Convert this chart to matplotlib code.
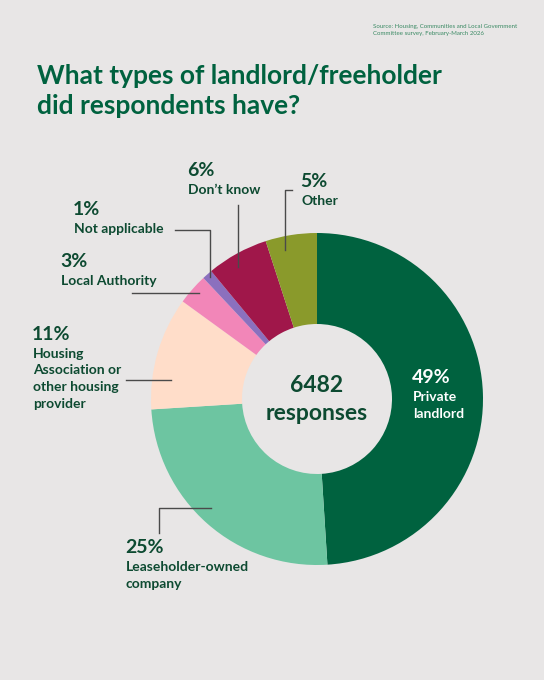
import matplotlib
matplotlib.use("Agg")
import matplotlib.pyplot as plt

# data
categories = ["Private landlord", "Leaseholder-owned company",
              "Housing Association or other housing provider",
              "Local Authority", "Not applicable", "Don't know", "Other"]
shares = [49, 25, 11, 3, 1, 6, 5]
colors = ["#00623F", "#6DC5A1", "#FFDDC9", "#F286B8", "#8B70BE", "#A0174A", "#8A9A2B"]
total_responses = 6482

bg = "#E8E6E6"
green = "#00623F"
dark = "#0D4A31"
font = "Lato"

fig = plt.figure(figsize=(5.44, 6.8), dpi=100)
fig.patch.set_facecolor(bg)
ax = fig.add_axes([0, 0, 1, 1])

# donut (y axis is inverted, so counterclock in data = clockwise on screen)
ax.pie(shares, colors=colors, startangle=-90, counterclock=True,
       center=(317, 399), radius=166,
       wedgeprops=dict(width=166 - 75, linewidth=0))
ax.set_xlim(0, 544)
ax.set_ylim(680, 0)
ax.set_aspect("equal")
ax.axis("off")

ax.text(317, 386, f"{total_responses}", ha="center", va="center",
        fontsize=16.5, fontweight="bold", color=dark, family=font)
ax.text(317, 414, "responses", ha="center", va="center",
        fontsize=16.5, fontweight="bold", color=dark, family=font)

# title and source
ax.text(37, 64, "What types of landlord/freeholder\ndid respondents have?",
        ha="left", va="top", fontsize=19, fontweight="bold", color=green,
        family=font, linespacing=1.3)
ax.text(373, 24, "Source: Housing, Communities and Local Government\n"
        "Committee survey, February-March 2026",
        ha="left", va="top", fontsize=4.4, color="#3B8A64", family=font,
        linespacing=1.5)

# labels: (x, y, label text, colour)
labels = [
    (412, 369, categories[0].replace(" ", "\n"), "white"),
    (125, 539, "Leaseholder-owned\ncompany", dark),
    (32, 326, "Housing\nAssociation or\nother housing\nprovider", dark),
    (60, 253, categories[3], dark),
    (73, 201, categories[4], dark),
    (187, 162, "Don\u2019t know", dark),
    (300, 173, categories[6], dark),
]
for (x, y, name, col), pct in zip(labels, shares):
    ax.text(x, y, f"{pct}%", ha="left", va="top", fontsize=14,
            fontweight="bold", color=col, family=font)
    ax.text(x + 1, y + 22, name, ha="left", va="top", fontsize=10,
            fontweight="bold", color=col, family=font, linespacing=1.45)

# leader lines
leaders = [
    ([159, 159, 211], [533, 508, 508]),
    ([126, 171], [380, 380]),
    ([132, 199], [293, 293]),
    ([175, 210, 210], [230, 230, 277]),
    ([238, 238], [205, 267]),
    ([292, 285, 285], [190, 190, 250]),
]
for xs, ys in leaders:
    ax.plot(xs, ys, color="#4A4A4A", linewidth=1)

fig.savefig("out.png", dpi=100, facecolor=bg)
